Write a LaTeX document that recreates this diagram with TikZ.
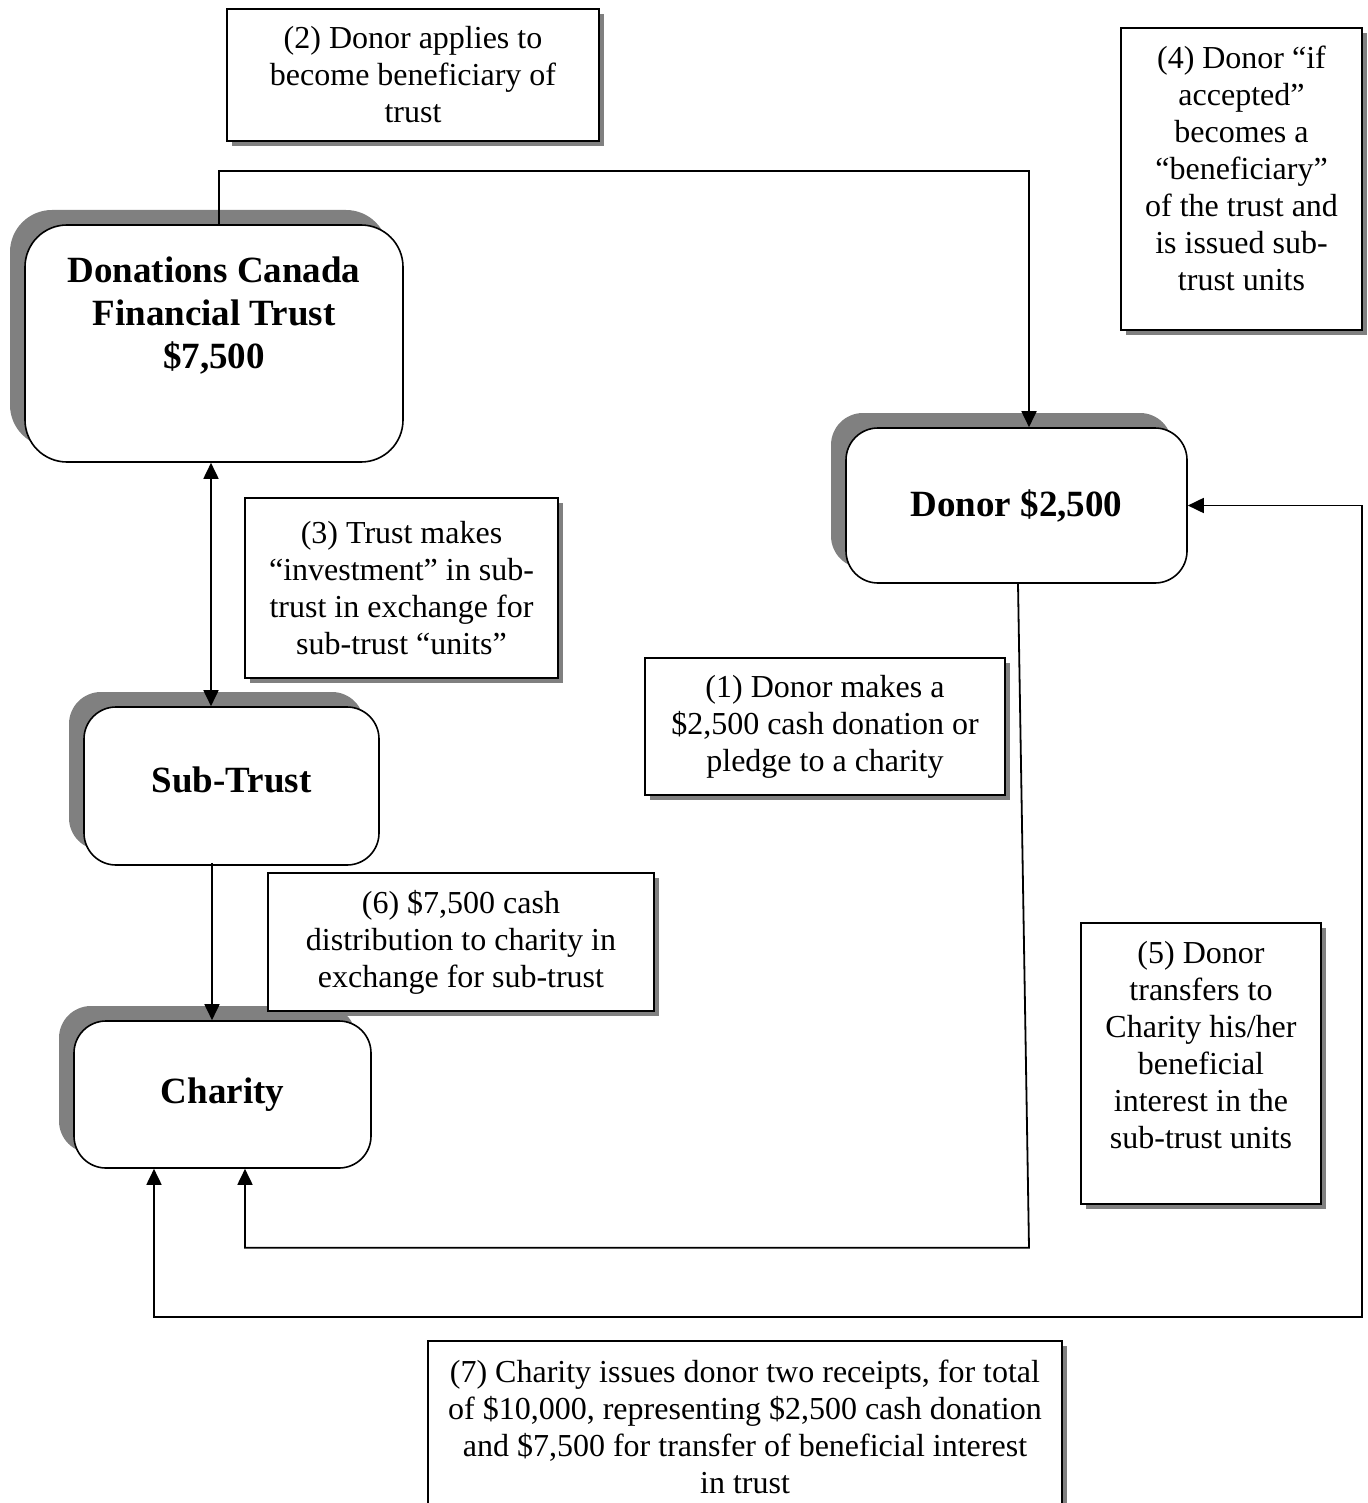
\documentclass[tikz,border=0pt]{standalone}
\usepackage{fontspec}
\setmainfont{Liberation Serif}
\usetikzlibrary{arrows.meta,shadows}

\tikzset{
  entity/.style={draw, line width=1.6pt, rounded corners=32pt, fill=white, align=center, inner sep=0pt,
    font=\fontsize{37}{43}\selectfont\bfseries,
    drop shadow={shadow xshift=-15pt, shadow yshift=15pt, fill=black!50, opacity=1}},
  note/.style={draw, line width=1.3pt, fill=white, align=center, inner sep=0pt,
    font=\fontsize{32}{37}\selectfont,
    drop shadow={shadow xshift=5pt, shadow yshift=-5pt, fill=black!50, opacity=1}},
  flow/.style={line width=1.8pt, -{Triangle[width=15pt,length=16pt]}},
  twoway/.style={line width=1.8pt, {Triangle[width=15pt,length=16pt]}-{Triangle[width=15pt,length=16pt]}}
}

\begin{document}
\begin{tikzpicture}[x=1pt,y=-1pt]
\clip (0,0) rectangle (1367,1503);

\node[entity, rounded corners=42pt, minimum width=378pt, minimum height=237pt] (trust) at (214,343.5)
  {Donations Canada\\Financial Trust\\\$7,500\\[18pt]\mbox{}};
\node[entity, minimum width=341pt, minimum height=155pt] (donor) at (1016.5,505.5) {Donor \$2,500};
\node[entity, minimum width=295pt, minimum height=158pt] (sub) at (231.5,786) {Sub-Trust\\[-31pt]\mbox{}};
\node[entity, minimum width=297pt, minimum height=147pt] (charity) at (222.5,1094.5) {Charity};

\node[note, minimum width=372pt, minimum height=132pt] (apply) at (413,75)
  {(2) Donor applies to\\become beneficiary of\\trust};
\node[note, minimum width=241pt, minimum height=302pt] (accept) at (1241.5,179)
  {(4) Donor “if\\accepted”\\becomes a\\“beneficiary”\\of the trust and\\is issued sub-\\trust units\\[-15pt]\mbox{}};
\node[note, minimum width=313pt, minimum height=180pt] (invest) at (401.5,588)
  {(3) Trust makes\\“investment” in sub-\\trust in exchange for\\sub-trust “units”};
\node[note, minimum width=360pt, minimum height=137pt] (gift) at (825,726.5)
  {(1) Donor makes a\\\$2,500 cash donation or\\pledge to a charity};
\node[note, minimum width=386pt, minimum height=138pt] (payout) at (461,942)
  {(6) \$7,500 cash\\distribution to charity in\\exchange for sub-trust};
\node[note, minimum width=240pt, minimum height=281pt] (transfer) at (1201,1063.5)
  {(5) Donor\\transfers to\\Charity his/her\\beneficial\\interest in the\\sub-trust units\\\mbox{}};
\node[note, minimum width=634pt, minimum height=172pt] (receipt) at (745,1427)
  {(7) Charity issues donor two receipts, for total\\of \$10,000, representing \$2,500 cash donation\\and \$7,500 for transfer of beneficial interest\\in trust};

\draw[flow] ([xshift=5pt]trust.north) -- ++(0,-53) -| ([xshift=12.5pt]donor.north);
\draw[twoway] ([xshift=-3pt]trust.south) -- ([xshift=-3pt]trust.south |- sub.north);
\draw[flow] ([xshift=-19.5pt,yshift=3pt]sub.south) -- ([xshift=-19.5pt]sub.south |- charity.north);
\draw[flow] ([xshift=1.5pt]donor.south) -- ++(11,664) -| ([xshift=22.5pt]charity.south);
\draw[twoway] ([xshift=-68.5pt]charity.south) |- (1362,1317) |- (donor.east);
\end{tikzpicture}
\end{document}
